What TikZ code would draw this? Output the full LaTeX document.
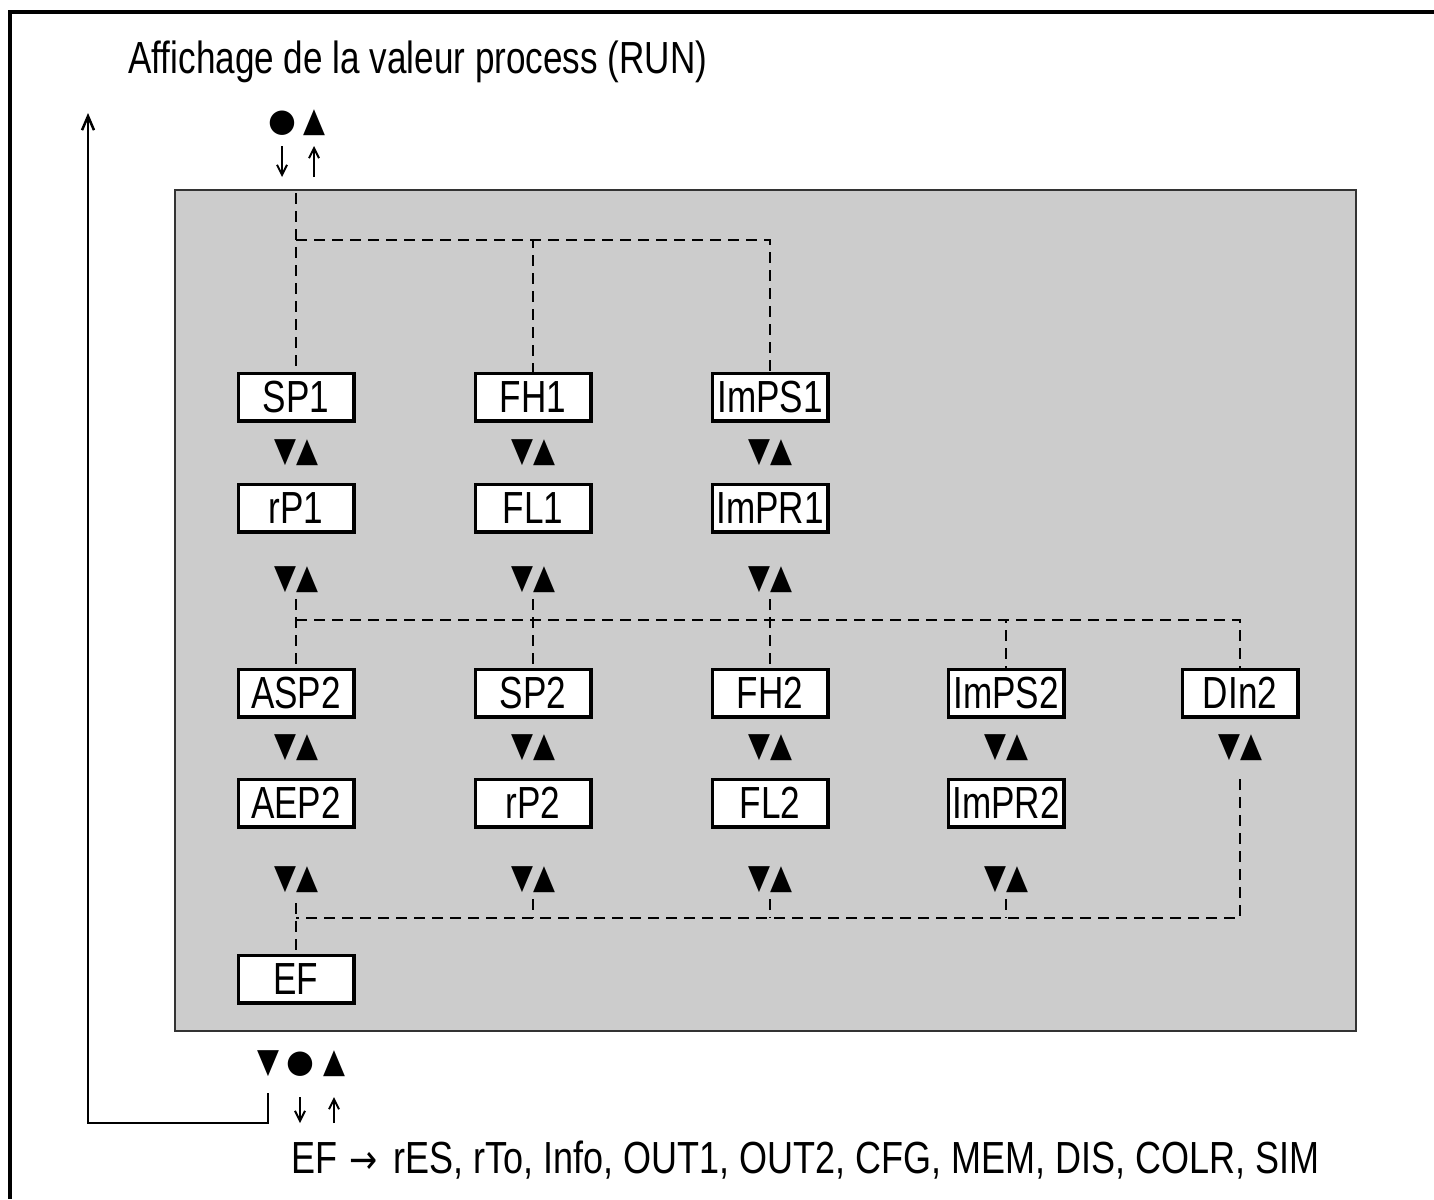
\documentclass[tikz,border=0pt]{standalone}
\usepackage{fontspec}
\setmainfont{Liberation Sans}[FakeStretch=0.78]
\newfontfamily\listfont{Liberation Sans}[FakeStretch=0.80]
\newfontfamily\symfont{DejaVu Sans}[FakeStretch=0.84]
\newfontfamily\dotfont{DejaVu Sans}
\usetikzlibrary{arrows.meta}
\definecolor{panelgray}{HTML}{CCCCCC}
\definecolor{paneledge}{HTML}{333333}
\begin{document}
\begin{tikzpicture}[x=0.5pt,y=-0.5pt,
  lbl/.style={font=\fontsize{22.5}{22.5}\selectfont, inner sep=0},
  menubox/.style={draw, line width=1.75pt, fill=white, minimum width=57.75pt,
    minimum height=23.75pt, inner sep=0, font=\fontsize{22.5}{22.5}\selectfont},
  keys/.style={font=\symfont\fontsize{17}{17}\selectfont, inner sep=0},
  keydot/.style={font=\dotfont\fontsize{16}{16}\selectfont, inner sep=0},
  dashline/.style={line width=1pt, dash pattern=on 5.5pt off 3.5pt},
  btnarrow/.style={line width=1pt, -{Straight Barb[length=5pt,width=5pt]}},
  ret/.style={line width=1.25pt, -{Straight Barb[length=7pt,width=6pt]}},
  frameline/.style={line width=2pt}
]
\useasboundingbox (0,0) rectangle (1434,1199);

% outer frame (top and left only)
\draw[frameline] (1434,12) -- (10,12) -- (10,1199);

% title
\node[lbl, anchor=base west] (title) at (128,73) {Affichage de la valeur process (RUN)};

% top keys
\node[keydot] (dotT) at (282,123) {●};
\node[keys] (upT) at (314,123) {▲};
\coordinate (dT0) at (282,146); \coordinate (dT1) at (282,177);
\coordinate (uT0) at (314,177); \coordinate (uT1) at (314,146);
\draw[btnarrow] (dT0) -- (dT1);
\draw[btnarrow] (uT0) -- (uT1);

% gray panel
\draw[fill=panelgray, draw=paneledge, line width=1pt] (175,190) rectangle (1356,1031);

% menu boxes
\node[menubox] (SP1) at (296,397) {SP1};
\node[menubox] (FH1) at (533,397) {FH1};
\node[menubox] (ImPS1) at (770,397) {ImPS1};
\node[menubox] (rP1) at (296,508) {rP1};
\node[menubox] (FL1) at (533,508) {FL1};
\node[menubox] (ImPR1) at (770,508) {ImPR1};
\node[menubox] (ASP2) at (296,693) {ASP2};
\node[menubox] (SP2) at (533,693) {SP2};
\node[menubox] (FH2) at (770,693) {FH2};
\node[menubox] (ImPS2) at (1006,693) {ImPS2};
\node[menubox] (DIn2) at (1240,693) {DIn2};
\node[menubox] (AEP2) at (296,803) {AEP2};
\node[menubox] (rP2) at (533,803) {rP2};
\node[menubox] (FL2) at (770,803) {FL2};
\node[menubox] (ImPR2) at (1006,803) {ImPR2};
\node[menubox] (EF) at (296,979) {EF};

% key pairs
\node[keys] (k11) at (296,453) {▼▲};
\node[keys] (k12) at (533,453) {▼▲};
\node[keys] (k13) at (770,453) {▼▲};
\node[keys] (k21) at (296,580) {▼▲};
\node[keys] (k22) at (533,580) {▼▲};
\node[keys] (k23) at (770,580) {▼▲};
\node[keys] (k31) at (296,748) {▼▲};
\node[keys] (k32) at (533,748) {▼▲};
\node[keys] (k33) at (770,748) {▼▲};
\node[keys] (k34) at (1006,748) {▼▲};
\node[keys] (k35) at (1240,748) {▼▲};
\node[keys] (k41) at (296,880) {▼▲};
\node[keys] (k42) at (533,880) {▼▲};
\node[keys] (k43) at (770,880) {▼▲};
\node[keys] (k44) at (1006,880) {▼▲};

% dashed links, top
\coordinate (topIn) at (296,193);
\coordinate (topJ) at (296,240);
\draw[dashline] (topIn) -- (SP1.north);
\draw[dashline] (topJ) -| (FH1.north);
\draw[dashline] (topJ) -| (ImPS1.north);

% dashed links, middle
\coordinate (midJ) at (296,620);
\draw[dashline, shorten <=3pt] (k21.south) -- (ASP2.north);
\draw[dashline, shorten <=3pt] (k22.south) -- (SP2.north);
\draw[dashline, shorten <=3pt] (k23.south) -- (FH2.north);
\draw[dashline] (midJ) -| (ImPS2.north);
\draw[dashline] (midJ) -| (DIn2.north);

% dashed links, bottom
\coordinate (botJ) at (296,918);
\draw[dashline, shorten <=5pt] (k41.south) -- (EF.north);
\draw[dashline, shorten <=3pt] (k42.south) -- (k42.south |- botJ);
\draw[dashline, shorten <=3pt] (k43.south) -- (k43.south |- botJ);
\draw[dashline, shorten <=3pt] (k44.south) -- (k44.south |- botJ);
\draw[dashline, shorten <=9pt] (k35.south) |- (botJ);

% bottom keys
\node[keys] (dnB) at (268,1064) {▼};
\node[keydot] (dotB) at (300,1064) {●};
\node[keys] (upB) at (334,1064) {▲};
\coordinate (dB0) at (300,1097); \coordinate (dB1) at (300,1123);
\coordinate (uB0) at (334,1123); \coordinate (uB1) at (334,1097);
\draw[btnarrow] (dB0) -- (dB1);
\draw[btnarrow] (uB0) -- (uB1);

% return line to process value display
\coordinate (rA) at (268,1093);
\coordinate (rB) at (88,1123);
\coordinate (rC) at (88,113);
\draw[ret] (rA) |- (rB) -- (rC);

% bottom list
\node[lbl, font=\listfont\fontsize{22.5}{22.5}\selectfont, anchor=base west] (list) at (291,1173)
  {EF\hspace{6pt}{\symfont\fontsize{20}{20}\selectfont →}\hspace{8pt}rES, rTo, Info, OUT1, OUT2, CFG, MEM, DIS, COLR, SIM};
\end{tikzpicture}
\end{document}
